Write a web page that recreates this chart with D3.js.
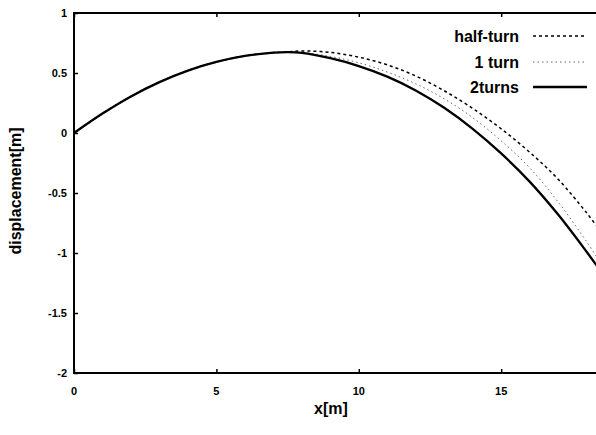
<!DOCTYPE html>
<html>
<head>
<meta charset="utf-8">
<script src="https://cdn.jsdelivr.net/npm/d3@7"></script>
<style>
  html, body { margin: 0; padding: 0; background: #fff; }
  svg { display: block; }
  text { font-family: "Liberation Sans", Arial, sans-serif; font-weight: bold; fill: #000; }
</style>
</head>
<body>
<svg id="chart" width="596" height="435"></svg>
<script>
// Horizontal positions (m) at which the displacement was sampled
const xs = [0, 1, 2, 3, 4, 5, 6, 7, 7.5, 8, 9, 10, 11, 12, 13, 14, 15, 16, 17, 18, 18.4];

// Displacement (m) for each winding configuration
const halfTurn = [0, 0.162, 0.305, 0.424, 0.52, 0.592, 0.642, 0.669, 0.676, 0.684, 0.672, 0.632, 0.568, 0.475, 0.352, 0.205, 0.035, -0.16, -0.385, -0.665, -0.79];
const oneTurn  = [0, 0.162, 0.305, 0.424, 0.52, 0.592, 0.642, 0.669, 0.674, 0.671, 0.638, 0.585, 0.508, 0.41, 0.285, 0.128, -0.065, -0.29, -0.575, -0.905, -1.05];
const twoTurns = [0, 0.162, 0.305, 0.424, 0.52, 0.592, 0.642, 0.669, 0.674, 0.668, 0.623, 0.558, 0.47, 0.355, 0.21, 0.035, -0.17, -0.405, -0.68, -0.99, -1.12];

const seriesNames = ["half-turn", "1 turn", "2turns"];
const xTicks = [0, 5, 10, 15];
const yTicks = [1, 0.5, 0, -0.5, -1, -1.5, -2];
const yTickLabels = ["1", "0.5", "0", "-0.5", "-1", "-1.5", "-2"];

const svg = d3.select("#chart");
const plotLeft = 74, plotTop = 13, plotBottom = 373, plotRight = 596;

const x = d3.scaleLinear().domain([0, 18.33]).range([plotLeft, plotRight]);
const y = d3.scaleLinear().domain([-2, 1]).range([plotBottom, plotTop]);

// Clip the curves to the plotting frame
svg.append("defs").append("clipPath").attr("id", "plotClip")
  .append("rect").attr("x", plotLeft).attr("y", plotTop)
  .attr("width", plotRight - plotLeft).attr("height", plotBottom - plotTop);

// Left axis with inward ticks
const yAxis = d3.axisRight(y).tickValues(yTicks).tickSize(4).tickFormat(() => "");
svg.append("g").attr("transform", `translate(${plotLeft},0)`).call(yAxis)
  .call(g => g.select(".domain").remove())
  .call(g => g.selectAll("line").attr("stroke", "#000").attr("stroke-width", 1.5));

svg.append("g").selectAll("text").data(yTicks).join("text")
  .attr("x", 67).attr("y", d => y(d)).attr("dy", "0.35em")
  .attr("text-anchor", "end").attr("font-size", 11)
  .text((d, i) => yTickLabels[i]);

// Bottom axis with inward ticks
const xAxis = d3.axisTop(x).tickValues(xTicks).tickSize(4).tickFormat(() => "");
svg.append("g").attr("transform", `translate(0,${plotBottom})`).call(xAxis)
  .call(g => g.select(".domain").remove())
  .call(g => g.selectAll("line").attr("stroke", "#000").attr("stroke-width", 1.5));

// Mirrored ticks on the top border
const xAxisTop = d3.axisBottom(x).tickValues(xTicks).tickSize(4).tickFormat(() => "");
svg.append("g").attr("transform", `translate(0,${plotTop})`).call(xAxisTop)
  .call(g => g.select(".domain").remove())
  .call(g => g.selectAll("line").attr("stroke", "#000").attr("stroke-width", 1.5));

svg.append("g").selectAll("text").data(xTicks).join("text")
  .attr("x", d => x(d)).attr("y", 395)
  .attr("text-anchor", "middle").attr("font-size", 11)
  .text(d => d);

// Frame (left, top, bottom; right side runs off the page)
svg.append("path")
  .attr("d", `M${plotRight},${plotTop}H${plotLeft}V${plotBottom}H${plotRight}`)
  .attr("fill", "none").attr("stroke", "#000").attr("stroke-width", 2);

// Axis titles
svg.append("text").attr("x", 331).attr("y", 414).attr("text-anchor", "middle")
  .attr("font-size", 16).text("x[m]");
svg.append("text").attr("transform", "translate(21,191) rotate(-90)")
  .attr("text-anchor", "middle").attr("font-size", 16).text("displacement[m]");

// Curves
const styles = [
  { data: halfTurn, stroke: "#000", width: 1.5, dash: "3,3" },
  { data: oneTurn, stroke: "#666", width: 1, dash: "1.5,3" },
  { data: twoTurns, stroke: "#000", width: 2.3, dash: null }
];
const line = d3.line().x((d, i) => x(xs[i])).y(d => y(d)).curve(d3.curveCatmullRom.alpha(0.5));

const plot = svg.append("g").attr("clip-path", "url(#plotClip)");
styles.forEach(s => {
  plot.append("path").datum(s.data)
    .attr("d", line).attr("fill", "none")
    .attr("stroke", s.stroke).attr("stroke-width", s.width)
    .attr("stroke-dasharray", s.dash);
});

// Legend
const legendY = [36, 62, 87];
const leg = svg.append("g");
seriesNames.forEach((name, i) => {
  leg.append("text").attr("x", 519).attr("y", legendY[i]).attr("dy", "0.35em")
    .attr("text-anchor", "end").attr("font-size", 16).text(name);
  leg.append("line").attr("x1", 533).attr("x2", 587).attr("y1", legendY[i]).attr("y2", legendY[i])
    .attr("stroke", styles[i].stroke).attr("stroke-width", styles[i].width)
    .attr("stroke-dasharray", styles[i].dash);
});
</script>
</body>
</html>
